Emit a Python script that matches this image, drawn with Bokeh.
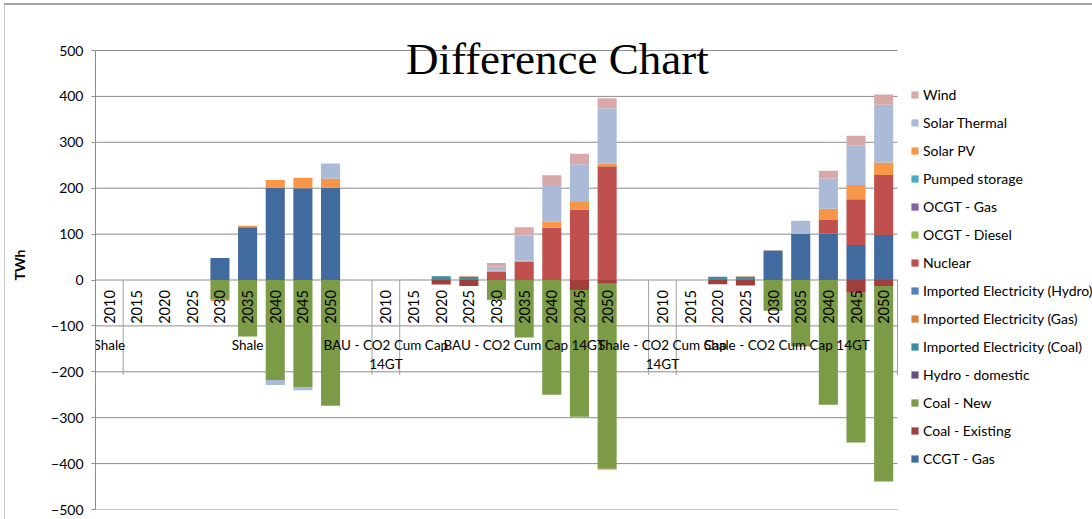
import numpy as np
from bokeh.plotting import figure
from bokeh.models import (Range1d, FixedTicker, Legend, LegendItem,
                          ColumnDataSource, Label)
from bokeh.core.properties import value
from bokeh.embed import file_html
from bokeh.resources import INLINE

# ---------------- data ----------------
years = ["2010", "2015", "2020", "2025", "2030", "2035", "2040", "2045", "2050"]
scenarios = ["Shale", "BAU - CO2 Cum Cap 14GT", "Shale - CO2 Cum Cap 14GT"]

series_names = ["CCGT - Gas", "Coal - Existing", "Coal - New", "Hydro - domestic",
                "Imported Electricity (Coal)", "Imported Electricity (Gas)",
                "Imported Electricity (Hydro)", "Nuclear", "OCGT - Diesel",
                "OCGT - Gas", "Pumped storage", "Solar PV", "Solar Thermal", "Wind"]

series_colors = ["#416A9E", "#A13F3D", "#7B9B47", "#67507F", "#3A8DA3", "#D9803A",
                 "#4F81BD", "#C0504D", "#9BBB59", "#8064A2", "#4BACC6", "#F79646",
                 "#AABAD7", "#D9A9A9"]

# values per scenario block (Shale | BAU - CO2 Cum Cap 14GT | Shale - CO2 Cum Cap 14GT)
ccgt_gas       = [0, 0, 0, 0, 48, 115, 201, 200, 201,   0, 0, 0, 0, 0, 0, 0, 0, 0,        0, 0, 0, 0, 64, 100, 101, 76, 98]
coal_existing  = [0, 0, 0, 0, 0, 0, 0, 0, 0,            0, 0, -10, -13, 0, 0, 0, -22, -8, 0, 0, -9, -12, 0, 0, 0, -28, -13]
coal_new       = [0, 0, 0, 0, -42, -123, -218, -234, -274, 0, 0, 0, 0, -43, -125, -250, -276, -403, 0, 0, 0, 0, -67, -145, -272, -326, -426]
hydro_domestic = [0] * 27
imp_coal       = [0, 0, 0, 0, 0, 0, 0, 0, 0,            0, 0, 8, 7, 0, 0, 0, 0, 0,        0, 0, 7, 7, 0, 0, 0, 0, 0]
imp_gas        = [0, 0, 0, 0, -3, 0, 0, 0, 0,           0, 0, 0, 1, 0, 0, 0, 0, -2,       0, 0, 0, 1, 0, 0, 0, 0, 0]
imp_hydro      = [0] * 27
nuclear        = [0, 0, 0, 0, 0, 0, 0, 0, 0,            0, 0, 0, 0, 18, 40, 114, 153, 248, 0, 0, 0, 0, 0, 0, 31, 100, 131]
ocgt_diesel    = [0] * 27
ocgt_gas       = [0] * 27
pumped_storage = [0] * 27
solar_pv       = [0, 0, 0, 0, 0, 3, 17, 23, 20,         0, 0, 0, 0, 2, 2, 13, 17, 6,      0, 0, 0, 0, 1, 2, 23, 31, 27]
solar_thermal  = [0, 0, 0, 0, 0, 0, -11, -6, 33,        0, 1, 0, 0, 9, 55, 78, 82, 120,   0, 0, 0, 0, 0, 27, 66, 86, 126]
wind           = [0, 0, 0, 0, 0, 0, 0, 0, 0,            0, 0, 0, 0, 8, 18, 23, 23, 22,    0, 0, 0, 0, 0, 0, 17, 21, 22]

series_values = [ccgt_gas, coal_existing, coal_new, hydro_domestic, imp_coal, imp_gas,
                 imp_hydro, nuclear, ocgt_diesel, ocgt_gas, pumped_storage, solar_pv,
                 solar_thermal, wind]

yticks = list(range(-500, 501, 100))

# ---------------- layout of categories ----------------
n_years = len(years)
block = n_years + 1            # a blank slot after each scenario block
n_slots = block * (len(scenarios) - 1) + n_years   # 29
x_pos = [g * block + j + 0.5 for g in range(len(scenarios)) for j in range(n_years)]

data = {"x": x_pos}
pos_keys, neg_keys = [], []
for i, vals in enumerate(series_values):
    arr = np.array(vals, dtype=float)
    pk, nk = f"p{i}", f"n{i}"
    data[pk] = np.clip(arr, 0, None)
    data[nk] = np.clip(arr, None, 0)
    pos_keys.append(pk)
    neg_keys.append(nk)
src = ColumnDataSource(data)

W, H = 1092, 519
B_LEFT, B_TOP, B_BOTTOM = 95, 20, 10
PLOT_W = 802                           # width of the category area (px)
frame_w = W - B_LEFT
frame_h = H - B_TOP - B_BOTTOM
px_per_unit = 459 / 1000.0             # 1000 TWh over 459 px
y_top = -500 + frame_h / px_per_unit   # headroom above 500 for the title
x_right = n_slots * frame_w / PLOT_W   # room on the right for the legend

p = figure(width=W, height=H, output_backend="svg", toolbar_location=None,
           x_range=Range1d(0, x_right), y_range=Range1d(-500, y_top),
           min_border_left=B_LEFT, min_border_right=0, min_border_top=B_TOP,
           min_border_bottom=B_BOTTOM)
p.outline_line_color = None
p.background_fill_color = "white"
p.border_fill_color = None
# chart-area border (top and left edges), drawn behind the transparent border area
p.styles = {
    "background-color": "white",
    "background-image": "linear-gradient(#A6A6A6, #A6A6A6), linear-gradient(#C8C8C8, #C8C8C8)",
    "background-size": "1088px 2px, 1px 515px",
    "background-position": "4px 3px, 4px 4px",
    "background-repeat": "no-repeat",
}
p.xaxis.visible = False
p.xgrid.grid_line_color = None
p.ygrid.grid_line_color = None

# horizontal gridlines limited to the category area
p.segment(x0=[0] * len(yticks), x1=[n_slots] * len(yticks), y0=yticks, y1=yticks,
          line_color="#8C8C8C", line_width=1)

ax = p.yaxis[0]
ax.ticker = FixedTicker(ticks=yticks)
ax.bounds = (-500, 500)
ax.axis_line_color = "#8C8C8C"
ax.major_tick_line_color = "#8C8C8C"
ax.major_tick_out = 4
ax.major_tick_in = 0
ax.minor_tick_line_color = None
ax.major_label_text_font = "Lato"
ax.major_label_text_font_size = "14px"
ax.major_label_text_color = "black"
ax.major_label_standoff = 8
ax.axis_label = "TWh"
ax.axis_label_text_font = "Lato"
ax.axis_label_text_font_style = "bold"
ax.axis_label_text_font_size = "14px"
ax.axis_label_text_color = "black"
ax.axis_label_standoff = 20

# bars: positives and negatives stacked separately
pos_r = p.vbar_stack(pos_keys, x="x", width=0.69, source=src,
                     fill_color=series_colors, line_color=None)
neg_r = p.vbar_stack(neg_keys, x="x", width=0.69, source=src,
                     fill_color=series_colors, line_color=None)

# category separators (axis)
seps = sorted(set([g * block for g in range(len(scenarios))] +
                  [g * block + 1 for g in range(len(scenarios))] + [n_slots]))
p.segment(x0=seps, x1=seps, y0=[0] * len(seps), y1=[-207] * len(seps),
          line_color="#A0A0A0", line_width=1)

# year labels
p.text(x=x_pos, y=[0] * len(x_pos), text=years * len(scenarios), angle=np.pi / 2,
       text_font=value("Lato"), text_font_size="14.5px", text_color="black",
       text_align="center", text_baseline="middle", y_offset=27)

# scenario labels (Excel places each twice: narrow first slot + remaining span)
lab_x, lab_t, lab_off = [], [], []
for g, name in enumerate(scenarios):
    start = g * block
    end = start + block if g < len(scenarios) - 1 else n_slots
    words = name.rsplit(" ", 1) if len(name) > 10 else [name]
    for k, line in enumerate(words):
        lab_x.append(start + 0.5)
        lab_t.append(line)
        lab_off.append(65 + 19 * k)
    lab_x.append((start + 1 + end) / 2)
    lab_t.append(name)
    lab_off.append(65)
p.text(x=lab_x, y=[0] * len(lab_x), text=lab_t, y_offset=lab_off,
       text_font=value("Lato"), text_font_size="13.5px", text_color="black",
       text_align="center", text_baseline="middle")

# title
p.add_layout(Label(x=16.7, y=482, text="Difference Chart", text_font="Liberation Serif",
                   text_font_size="45px", text_align="center", text_baseline="middle",
                   text_color="black"))

# legend (top: Wind ... bottom: CCGT - Gas)
items = [LegendItem(label=series_names[i], renderers=[pos_r[i]])
         for i in reversed(range(len(series_names)))]
legend = Legend(items=items, location=(815, 42), padding=0, margin=0,
                border_line_color=None, background_fill_alpha=0,
                glyph_width=9, glyph_height=9, label_height=18, spacing=10,
                label_standoff=4, label_text_font="Lato",
                label_text_font_size="14px", label_text_color="black")
p.add_layout(legend)

open("out.html", "w").write(file_html(p, INLINE))
